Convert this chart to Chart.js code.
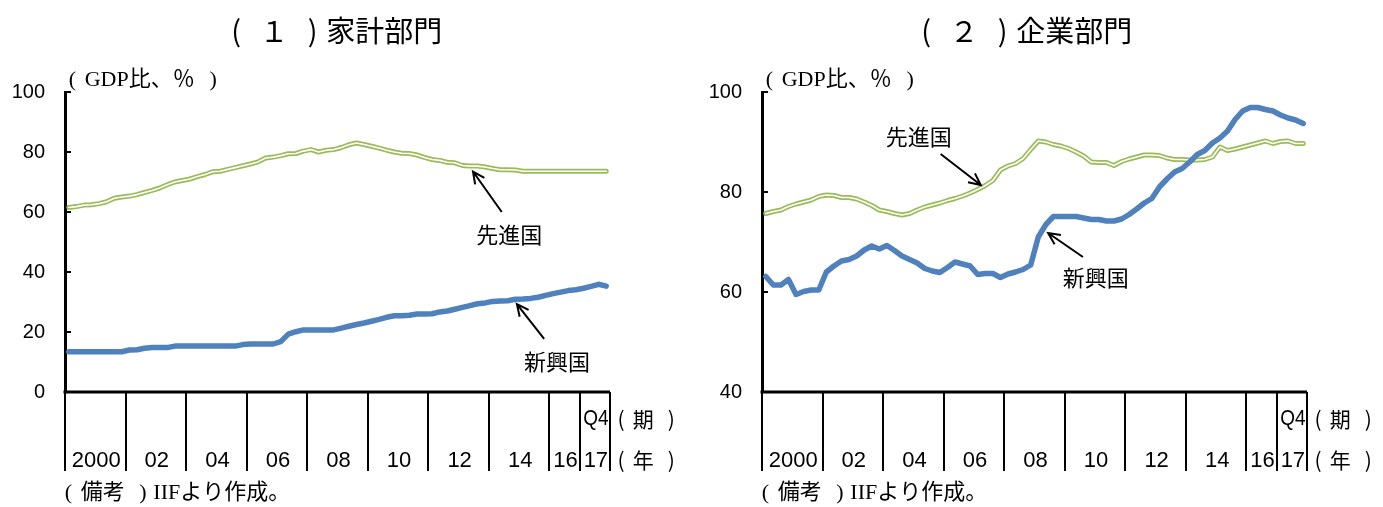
<!DOCTYPE html>
<html lang="ja">
<head>
<meta charset="utf-8">
<script src="https://cdn.jsdelivr.net/npm/chart.js@4.4.1/dist/chart.umd.min.js"></script>
<style>
  html, body { margin: 0; padding: 0; background: #fff; }
  body { width: 1383px; height: 507px; position: relative; overflow: hidden; }
  .panel { position: absolute; top: 0; }
  #left { left: 0; }
  #right { left: 690px; }
</style>
</head>
<body>
<div class="panel" id="left"><canvas id="householdChart" width="690" height="507"></canvas></div>
<div class="panel" id="right"><canvas id="corporateChart" width="693" height="507"></canvas></div>
<script>
// 2000Q1〜2017Q4 の四半期、債務残高（GDP比、%）
const years = [2000, 2001, 2002, 2003, 2004, 2005, 2006, 2007, 2008,
               2009, 2010, 2011, 2012, 2013, 2014, 2015, 2016, 2017];
const quarters = years.flatMap(y => ['Q1', 'Q2', 'Q3', 'Q4'].map(q => y + q));

// 家計部門
const householdAdvanced = [
  61.5, 61.8, 62.3, 62.4, 62.8, 63.4, 64.6, 65.0,
  65.3, 65.8, 66.5, 67.2, 68.0, 69.1, 70.0, 70.5,
  71.0, 71.8, 72.5, 73.4, 73.6, 74.2, 74.8, 75.4,
  76.0, 76.7, 78.0, 78.3, 78.8, 79.4, 79.5, 80.3,
  80.8, 80.0, 80.6, 80.8, 81.5, 82.4, 83.0, 82.5,
  81.9, 81.3, 80.6, 80.0, 79.6, 79.5, 79.0, 78.2,
  77.5, 77.2, 76.6, 76.4, 75.5, 75.3, 75.3, 75.0,
  74.5, 74.1, 74.1, 74.0, 73.6, 73.6, 73.6, 73.6,
  73.6, 73.6, 73.6, 73.6, 73.6, 73.6, 73.6, 73.6
];
const householdEmerging = [
  13.4, 13.4, 13.4, 13.4, 13.4, 13.4, 13.4, 13.4,
  14.0, 14.1, 14.6, 14.8, 14.8, 14.8, 15.3, 15.3,
  15.3, 15.3, 15.3, 15.3, 15.3, 15.3, 15.3, 15.8,
  16.0, 16.0, 16.0, 16.0, 16.8, 19.3, 20.1, 20.7,
  20.7, 20.7, 20.7, 20.7, 21.3, 21.9, 22.5, 23.0,
  23.6, 24.2, 24.9, 25.4, 25.4, 25.6, 26.0, 26.0,
  26.1, 26.7, 27.0, 27.6, 28.2, 28.8, 29.4, 29.7,
  30.2, 30.3, 30.4, 30.9, 31.0, 31.2, 31.6, 32.2,
  32.8, 33.3, 33.8, 34.1, 34.6, 35.2, 35.9, 35.3
];

// 企業部門
const corporateAdvanced = [
  75.7, 76.1, 76.4, 77.1, 77.6, 78.0, 78.4, 79.1,
  79.4, 79.3, 78.9, 78.9, 78.6, 78.0, 77.3, 76.4,
  76.1, 75.7, 75.4, 75.7, 76.4, 77.0, 77.4, 77.8,
  78.3, 78.7, 79.2, 79.8, 80.5, 81.3, 82.3, 84.4,
  85.2, 85.7, 86.7, 88.5, 90.2, 90.0, 89.5, 89.2,
  88.7, 88.0, 87.2, 86.0, 85.9, 85.9, 85.3, 86.1,
  86.6, 87.0, 87.4, 87.4, 87.3, 86.8, 86.5, 86.5,
  86.4, 86.4, 86.5, 87.0, 89.0, 88.3, 88.6, 89.0,
  89.4, 89.8, 90.2, 89.7, 90.1, 90.2, 89.7, 89.7
];
const corporateEmerging = [
  63.1, 61.4, 61.4, 62.5, 59.5, 60.1, 60.4, 60.4,
  64.0, 65.2, 66.2, 66.5, 67.2, 68.4, 69.2, 68.6,
  69.3, 68.3, 67.2, 66.5, 65.8, 64.7, 64.2, 63.9,
  64.9, 66.0, 65.6, 65.2, 63.5, 63.7, 63.7, 62.9,
  63.6, 64.0, 64.5, 65.4, 71.0, 73.5, 75.1, 75.1,
  75.1, 75.1, 74.8, 74.5, 74.5, 74.2, 74.2, 74.6,
  75.5, 76.6, 77.8, 78.7, 81.0, 82.6, 84.0, 84.7,
  86.0, 87.5, 88.3, 89.8, 90.8, 92.2, 94.5, 96.2,
  96.9, 96.9, 96.5, 96.2, 95.4, 94.8, 94.4, 93.7
];

// 横軸の区切り（四半期の通し番号）とその下の年ラベル
const yearBreaks = [0, 8, 16, 24, 32, 40, 48, 56, 64, 68, 72];
const yearLabels = ['2000', '02', '04', '06', '08', '10', '12', '14', '16', '17'];
const lastQuarterLabel = 'Q4';

const householdTicks = { min: 0, max: 100, step: 20 };
const corporateTicks = { min: 40, max: 100, step: 20 };

const BLUE = '#4F81BD';
const GREEN = '#9BBB59';
const JP = "'Noto Sans CJK JP', 'Noto Sans', sans-serif";
const MIXED = "'Liberation Serif', 'Noto Sans CJK JP', serif";
const NUM = "'Liberation Sans', Arial, sans-serif";

function toPoints(values) {
  return values.map((v, i) => ({ x: i, y: v }));
}

function drawArrow(ctx, x1, y1, x2, y2) {
  const ang = Math.atan2(y2 - y1, x2 - x1);
  const len = 13, spread = 0.45;
  ctx.beginPath();
  ctx.moveTo(x1, y1);
  ctx.lineTo(x2, y2);
  ctx.moveTo(x2 - len * Math.cos(ang - spread), y2 - len * Math.sin(ang - spread));
  ctx.lineTo(x2, y2);
  ctx.lineTo(x2 - len * Math.cos(ang + spread), y2 - len * Math.sin(ang + spread));
  ctx.stroke();
}

// 全角かっこは半角の字形に置き換えて、前後の空きを付けて並べる
const CLOSE_CELL = 1.3;
function jpWidth(ctx, text, size, openCell) {
  let w = 0;
  for (const ch of text) {
    if (ch === '（') w += openCell * size;
    else if (ch === '）') w += CLOSE_CELL * size;
    else w += ctx.measureText(ch).width;
  }
  return w;
}
function drawJp(ctx, text, x, y, size, openCell) {
  let cx = x;
  ctx.textAlign = 'left';
  for (const ch of text) {
    if (ch === '（') {
      ctx.fillText('(', cx + 0.12 * size, y);
      cx += openCell * size;
    } else if (ch === '）') {
      ctx.fillText(')', cx + (CLOSE_CELL - 0.3) * size - ctx.measureText(')').width, y);
      cx += CLOSE_CELL * size;
    } else {
      ctx.fillText(ch, cx, y);
      cx += ctx.measureText(ch).width;
    }
  }
}

// 枠線・区切り・文字・矢印を描くプラグイン
function decor(cfg) {
  return {
    id: 'decor',
    afterDraw(chart) {
      const { ctx, chartArea: a, scales: { x, y } } = chart;
      ctx.save();
      ctx.strokeStyle = '#000';
      ctx.fillStyle = '#000';

      // 内向きの目盛り
      ctx.lineWidth = 2;
      y.ticks.forEach(t => {
        const py = Math.round(y.getPixelForValue(t.value));
        ctx.beginPath();
        ctx.moveTo(a.left, py);
        ctx.lineTo(a.left + 6, py);
        ctx.stroke();
      });

      // 横軸
      ctx.lineWidth = 3;
      ctx.beginPath();
      ctx.moveTo(a.left - 1.5, a.bottom);
      ctx.lineTo(a.right, a.bottom);
      ctx.stroke();

      // 年の区切り線
      ctx.lineWidth = 2;
      yearBreaks.forEach(q => {
        const px = Math.round(x.getPixelForValue(q - 0.5));
        ctx.beginPath();
        ctx.moveTo(px, a.bottom);
        ctx.lineTo(px, a.bottom + 79);
        ctx.stroke();
      });

      // 年ラベル
      ctx.font = '22px ' + NUM;
      ctx.textAlign = 'center';
      ctx.textBaseline = 'alphabetic';
      yearLabels.forEach((lab, k) => {
        const x0 = x.getPixelForValue(yearBreaks[k] - 0.5);
        const x1 = x.getPixelForValue(yearBreaks[k + 1] - 0.5);
        ctx.fillText(lab, (x0 + x1) / 2 + 1, a.bottom + 75, x1 - x0 - 3);
      });
      const qa = x.getPixelForValue(yearBreaks[yearBreaks.length - 2] - 0.5);
      const qb = x.getPixelForValue(yearBreaks[yearBreaks.length - 1] - 0.5);
      ctx.fillText(lastQuarterLabel, (qa + qb) / 2 + 1, a.bottom + 33, qb - qa - 5);

      ctx.textBaseline = 'middle';
      ctx.font = '21px ' + JP;
      drawJp(ctx, '（期）', a.right + 5, a.bottom + 27, 21, 0.85);
      drawJp(ctx, '（年）', a.right + 5, a.bottom + 68, 21, 0.85);

      // タイトル・単位・出所
      ctx.font = '29px ' + JP;
      const tw = jpWidth(ctx, cfg.title, 29, 1.1);
      drawJp(ctx, cfg.title, 335 - tw / 2, 31, 29, 1.1);
      ctx.font = '22px ' + MIXED;
      drawJp(ctx, '（GDP比、％）', a.left + 1, 80, 22, 0.85);
      drawJp(ctx, '（備考）IIFより作成。', a.left - 3, 493, 22, 0.85);

      // 系列名と矢印
      ctx.lineWidth = 2;
      ctx.font = '22px ' + JP;
      ctx.textAlign = 'center';
      cfg.notes.forEach(n => {
        ctx.fillText(n.text, x.getPixelForValue(n.label[0]), y.getPixelForValue(n.label[1]));
        drawArrow(ctx,
          x.getPixelForValue(n.from[0]), y.getPixelForValue(n.from[1]),
          x.getPixelForValue(n.to[0]), y.getPixelForValue(n.to[1]));
      });
      ctx.restore();
    }
  };
}

function makeChart(id, emerging, advanced, ticks, rightPad, axisWidth, cfg) {
  const line = (data, color, width) => ({
    data: toPoints(data),
    borderColor: color,
    borderWidth: width,
    pointRadius: 0,
    tension: 0,
    borderCapStyle: 'round',
    borderJoinStyle: 'round'
  });
  return new Chart(document.getElementById(id), {
    type: 'line',
    data: {
      labels: quarters,
      datasets: [
        Object.assign(line(emerging, BLUE, 5.5), { label: '新興国' }),
        Object.assign(line(advanced, '#ffffff', 1.6), { label: '先進国' }),
        Object.assign(line(advanced, GREEN, 5), { label: '先進国' })
      ]
    },
    options: {
      responsive: false,
      animation: false,
      layout: { padding: { top: 92, right: rightPad, bottom: 115, left: 0 } },
      plugins: { legend: { display: false }, tooltip: { enabled: false }, title: { display: false } },
      scales: {
        x: { type: 'linear', min: -0.5, max: quarters.length - 0.5, display: false },
        y: {
          min: ticks.min,
          max: ticks.max,
          ticks: {
            stepSize: ticks.step,
            padding: 20,
            color: '#000',
            font: { family: NUM, size: 20 }
          },
          grid: { display: false, drawTicks: false },
          border: { display: true, color: '#000', width: 3 },
          afterFit: scale => { scale.width = axisWidth; }
        }
      }
    },
    plugins: [decor(cfg)]
  });
}

makeChart('householdChart', householdEmerging, householdAdvanced, householdTicks, 80, 65, {
  title: '（１）家計部門',
  notes: [
    { text: '先進国', label: [58.2, 52.3], from: [57.2, 60], to: [53.4, 73.5] },
    { text: '新興国', label: [64.5, 10], from: [62.8, 17.7], to: [59.2, 29.3] }
  ]
});

makeChart('corporateChart', corporateEmerging, corporateAdvanced, corporateTicks, 76, 72, {
  title: '（２）企業部門',
  notes: [
    { text: '先進国', label: [20.2, 91], from: [23.1, 87.6], to: [28.4, 81.4] },
    { text: '新興国', label: [43.6, 62.8], from: [41.9, 67], to: [37.3, 71.8] }
  ]
});
</script>
</body>
</html>
